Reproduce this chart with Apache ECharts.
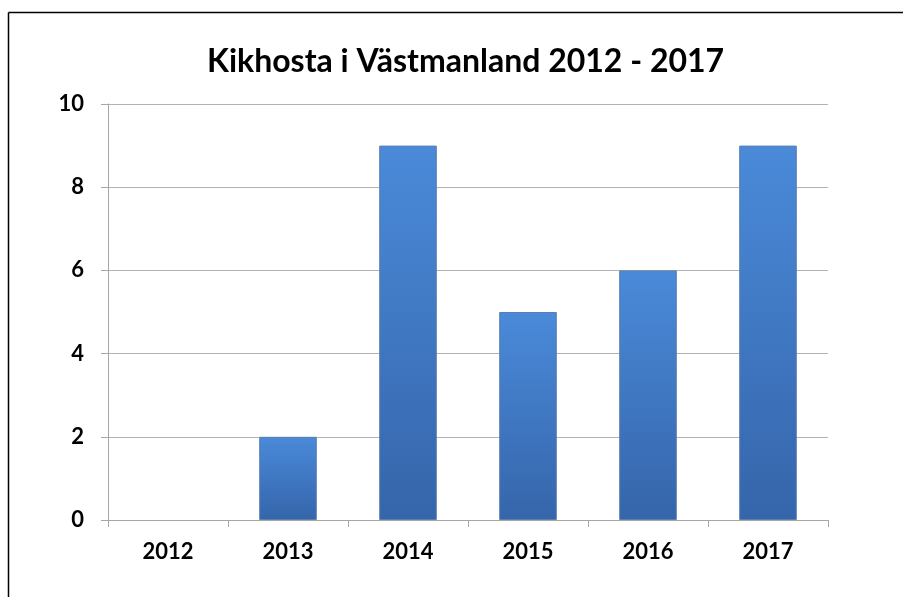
<!DOCTYPE html>
<html>
<head>
<meta charset="utf-8">
<script src="https://cdn.jsdelivr.net/npm/echarts@6/dist/echarts.min.js"></script>
<style>
html, body { margin: 0; padding: 0; background: #fff; }
#main { width: 903px; height: 597px; }
</style>
</head>
<body>
<div id="main"></div>
<script>
// data
var years = ['2012', '2013', '2014', '2015', '2016', '2017'];
var cases = [0, 2, 9, 5, 6, 9];

var font = 'Lato';
var label_style = { color: '#000', fontWeight: 'bold', fontSize: 22, fontFamily: font };

// no outline on empty bars
var bar_data = cases.map(function (v) {
	return { value: v, itemStyle: { borderWidth: v > 0 ? 1 : 0 } };
});

var chart = echarts.init(document.getElementById('main'));
chart.setOption({
	backgroundColor: '#fff',
	animation: false,
	title: {
		text: 'Kikhosta i Västmanland 2012 - 2017',
		left: 202,
		top: 41,
		textStyle: { color: '#000', fontWeight: 'bold', fontSize: 32, fontFamily: font }
	},
	graphic: [{
		type: 'line',
		shape: { x1: 8.5, y1: 12.5, x2: 903, y2: 12.5 },
		style: { stroke: '#000', lineWidth: 1.5 },
		z: 100
	}, {
		type: 'line',
		shape: { x1: 8.5, y1: 12.5, x2: 8.5, y2: 597 },
		style: { stroke: '#000', lineWidth: 1.5 },
		z: 100
	}],
	grid: { left: 108, right: 75, top: 104, bottom: 77 },
	xAxis: {
		type: 'category',
		data: years,
		axisLine: { lineStyle: { color: '#a6a6a6' } },
		axisTick: { show: true, length: 7, lineStyle: { color: '#a6a6a6' } },
		axisLabel: Object.assign({ margin: 21 }, label_style)
	},
	yAxis: {
		type: 'value',
		min: 0,
		max: 10,
		interval: 2,
		axisLine: { show: true, lineStyle: { color: '#a6a6a6' } },
		axisTick: { show: true, length: 7, lineStyle: { color: '#a6a6a6' } },
		splitLine: { lineStyle: { color: '#b3b3b3' } },
		axisLabel: Object.assign({ margin: 24 }, label_style)
	},
	series: [{
		type: 'bar',
		data: bar_data,
		barWidth: '48%',
		itemStyle: {
			color: new echarts.graphic.LinearGradient(0, 0, 0, 1, [
				{ offset: 0, color: '#4a8ad9' },
				{ offset: 1, color: '#3565aa' }
			]),
			borderColor: '#5a7fb0'
		}
	}]
});
</script>
</body>
</html>
